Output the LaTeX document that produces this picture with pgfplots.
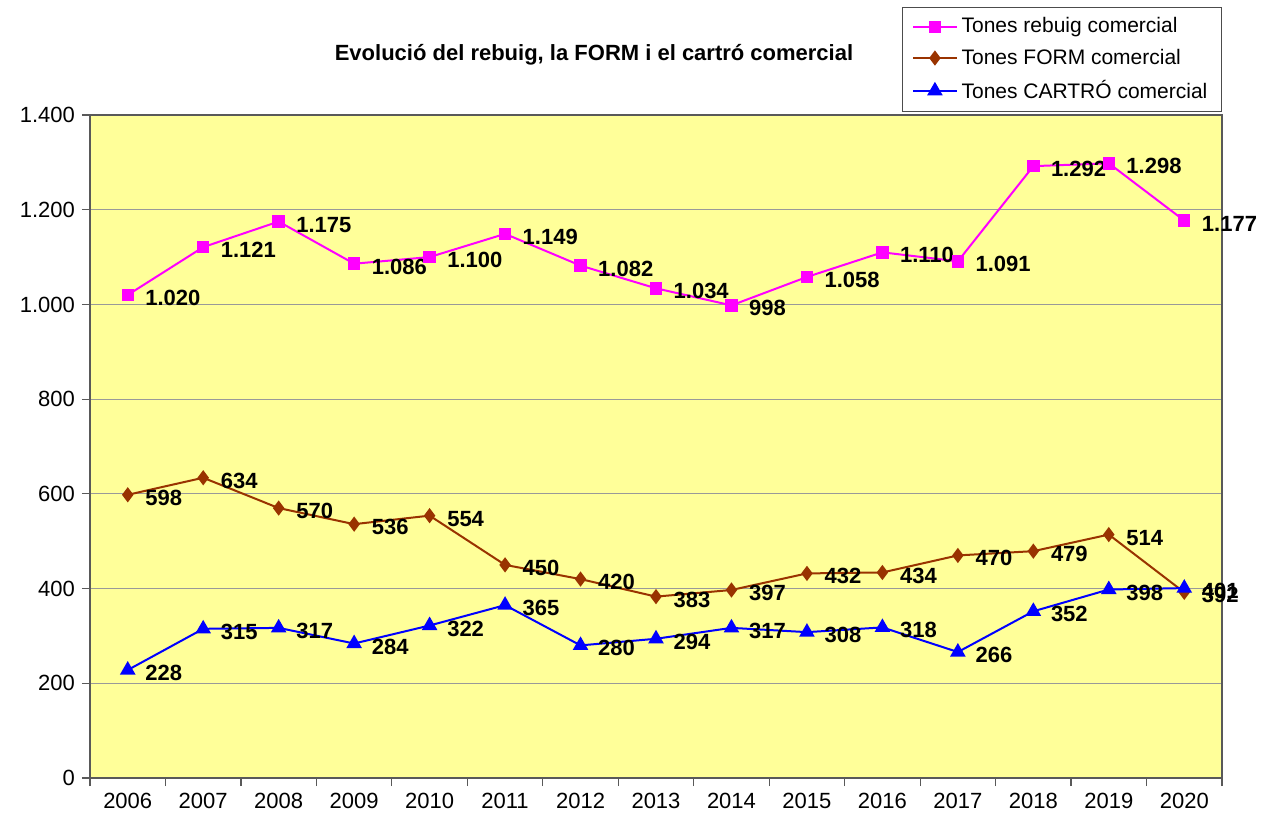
\documentclass[border=0pt]{standalone}
\usepackage{pgfplots}
\pgfplotsset{compat=1.18}
\usepackage{fontspec}
\setmainfont{Liberation Sans}
\definecolor{bgY}{HTML}{FFFF99}
\definecolor{cMag}{HTML}{FF00FF}
\definecolor{cBrn}{HTML}{993300}
\definecolor{cBlu}{HTML}{0000FF}
\begin{document}
\begin{tikzpicture}
\useasboundingbox (0,0) rectangle (632pt,410pt);
\begin{axis}[
 at={(45pt,21pt)}, anchor=south west,
 scale only axis, width=566pt, height=331.5pt,
 xmin=2005.5, xmax=2020.5, ymin=0, ymax=1400,
 xtick={2005.5,2006.5,2007.5,2008.5,2009.5,2010.5,2011.5,2012.5,2013.5,2014.5,2015.5,2016.5,2017.5,2018.5,2019.5,2020.5},
 x tick label as interval,
 xticklabels={2006,2007,2008,2009,2010,2011,2012,2013,2014,2015,2016,2017,2018,2019,2020},
 ytick={0,200,...,1400},
 xtick pos=bottom, ytick pos=left,
 tick align=outside, major tick length=4pt,
 axis background/.style={fill=bgY},
 ymajorgrids, grid style={gray!80, line width=0.5pt},
 axis line style={gray!70!black, line width=0.6pt},
 tick style={gray!70!black, line width=0.6pt},
 ticklabel style={font=\fontsize{11}{13}\selectfont},
 /pgf/number format/assume math mode=true,
 /pgf/number format/1000 sep={.},
 nodes near coords,
 every node near coord/.append style={anchor=west, font=\fontsize{11}{13}\selectfont\bfseries, xshift=5pt, yshift=-1.5pt, text=black},
 every axis plot/.append style={line width=1pt},
 legend style={at={(1,1)}, anchor=south east, yshift=1.5pt, draw=gray!60!black, fill=white,
   font=\fontsize{10.5}{12}\selectfont, cells={anchor=west}, line width=0.6pt,
   row sep=2.5pt, inner xsep=5pt, inner ysep=3pt},
 legend image code/.code={\draw[mark repeat=2,mark phase=2] plot coordinates {(0cm,0cm)(0.38cm,0cm)(0.76cm,0cm)};},
]
\addplot[color=cMag, mark=square*, mark size=2.6pt] coordinates {
(2006,1020)(2007,1121)(2008,1175)(2009,1086)(2010,1100)(2011,1149)(2012,1082)(2013,1034)(2014,998)(2015,1058)(2016,1110)(2017,1091)(2018,1292)(2019,1298)(2020,1177)};
\addlegendentry{Tones rebuig comercial}
\addplot[color=cBrn, mark=diamond*, mark size=3pt] coordinates {
(2006,598)(2007,634)(2008,570)(2009,536)(2010,554)(2011,450)(2012,420)(2013,383)(2014,397)(2015,432)(2016,434)(2017,470)(2018,479)(2019,514)(2020,392)};
\addlegendentry{Tones FORM comercial}
\addplot[color=cBlu, mark=triangle*, mark size=3.5pt] coordinates {
(2006,228)(2007,315)(2008,317)(2009,284)(2010,322)(2011,365)(2012,280)(2013,294)(2014,317)(2015,308)(2016,318)(2017,266)(2018,352)(2019,398)(2020,401)};
\addlegendentry{Tones CARTRÓ comercial}
\end{axis}
\node[font=\fontsize{11}{13}\selectfont\bfseries] at (297pt,382.5pt) {Evolució del rebuig, la FORM i el cartró comercial};
\end{tikzpicture}
\end{document}
